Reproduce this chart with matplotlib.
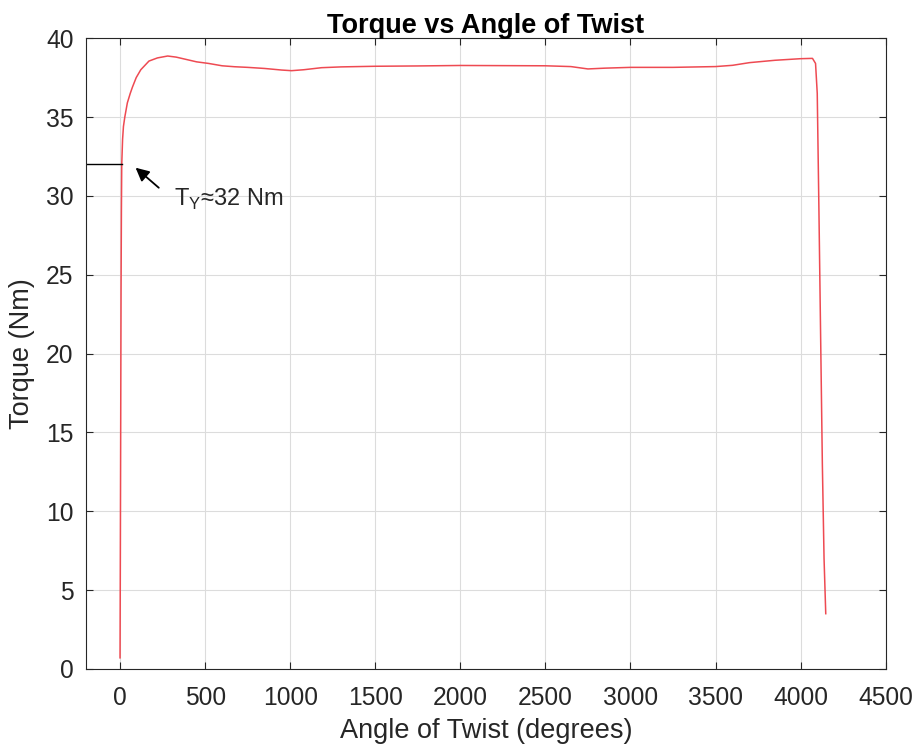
import numpy as np
import matplotlib
matplotlib.use("Agg")
import matplotlib.pyplot as plt

# torque test data
angle = [0, 2, 4, 6, 8, 10, 15, 20, 28, 43, 60, 73, 95, 122, 170, 220, 280,
         330, 390, 450, 520, 600, 673, 750, 850, 950, 1008, 1080, 1185, 1300,
         1500, 1750, 2000, 2250, 2500, 2650, 2750, 2850, 3000, 3250, 3500,
         3600, 3700, 3850, 4000, 4070, 4088, 4098, 4108, 4118, 4128, 4138, 4148]
torque = [0.7, 8, 16, 24, 29, 32, 33.6, 34.4, 35.0, 35.9, 36.5, 36.9, 37.5,
          38.0, 38.55, 38.75, 38.87, 38.8, 38.65, 38.5, 38.4, 38.25, 38.19,
          38.15, 38.08, 37.98, 37.94, 38.0, 38.13, 38.18, 38.22, 38.24, 38.27,
          38.26, 38.25, 38.2, 38.05, 38.1, 38.15, 38.15, 38.2, 38.28, 38.45,
          38.6, 38.7, 38.72, 38.4, 36.5, 29, 21, 13, 7, 3.5]

yield_torque = 32
yield_line_x = [-200, 10]
xticks = np.arange(0, 4501, 500)
yticks = np.arange(0, 41, 5)

plt.rcParams["font.family"] = ["Liberation Sans", "DejaVu Sans"]

fig = plt.figure(figsize=(9.17, 7.49), dpi=100)
ax = fig.add_axes([0.0938, 0.107, 0.872, 0.842])

ax.plot(angle, torque, color="#ee4a52", linewidth=1.1)
ax.plot(yield_line_x, [yield_torque, yield_torque], color="black", linewidth=1)

ax.annotate("", xy=(79, 31.9), xytext=(240, 30.4),
            arrowprops=dict(arrowstyle="-|>", color="black", lw=1.3,
                            mutation_scale=20))
ax.text(320, 29.75, r"T$_\mathregular{Y}$≈32 Nm", fontsize=17, va="center",
        color="#262626")

ax.set_xlim(-200, 4500)
ax.set_ylim(0, 40)
ax.set_xticks(xticks)
ax.set_yticks(yticks)
ax.grid(True, color="#dcdcdc", linewidth=0.8)
ax.tick_params(direction="in", top=True, right=True, labelsize=17.7,
               colors="#262626", length=5)
ax.tick_params(axis="x", pad=12)
ax.tick_params(axis="y", pad=9)
for sp in ax.spines.values():
    sp.set_color("#262626")
    sp.set_linewidth(0.8)

ax.set_xlabel("Angle of Twist (degrees)", fontsize=19.5, color="#262626",
              labelpad=6)
ax.set_ylabel("Torque (Nm)", fontsize=19.5, color="#262626", labelpad=8)
ax.set_title("Torque vs Angle of Twist", fontsize=19.5, fontweight="bold",
             pad=4)

fig.savefig("out.png", dpi=100)
